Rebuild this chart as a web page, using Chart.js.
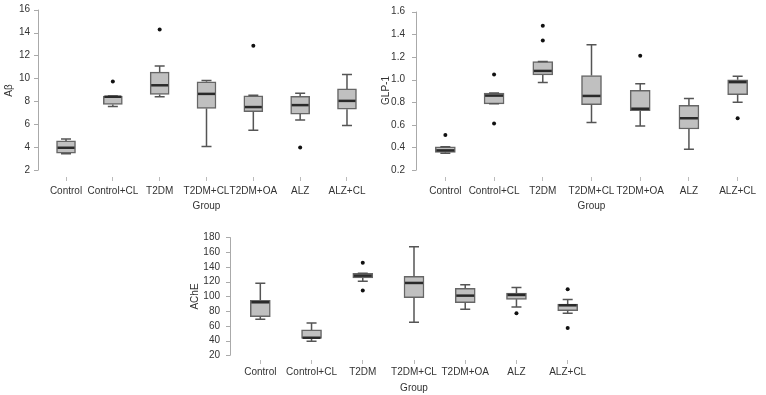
<!DOCTYPE html>
<html>
<head>
<meta charset="utf-8">
<script src="https://cdn.jsdelivr.net/npm/chart.js@4.4.0/dist/chart.umd.min.js"></script>
<style>
body{margin:0;background:#fff;width:766px;height:395px;overflow:hidden;position:relative}
canvas{position:absolute}
</style>
</head>
<body>
<canvas id="c1" width="380" height="215" style="left:0px;top:0px"></canvas>
<canvas id="c2" width="386" height="215" style="left:380px;top:0px"></canvas>
<canvas id="c3" width="430" height="180" style="left:170px;top:215px"></canvas>
<script>
const groups = ['Control', 'Control+CL', 'T2DM', 'T2DM+CL', 'T2DM+OA', 'ALZ', 'ALZ+CL'];

// A-beta panel
const abTicks = [2, 4, 6, 8, 10, 12, 14, 16];
const abLow  = [3.43, 7.55, 8.40, 4.06, 5.47, 6.38, 5.90];
const abQ1   = [3.48, 7.72, 8.60, 7.38, 7.10, 6.89, 7.32];
const abMed  = [3.95, 8.40, 9.40, 8.65, 7.50, 7.67, 8.04];
const abQ3   = [4.55, 8.46, 10.55, 9.70, 8.47, 8.44, 9.08];
const abHigh = [4.72, 8.46, 11.09, 9.82, 8.53, 8.70, 10.33];
const abOut  = [[1, 9.72], [2, 14.26], [4, 12.85], [5, 3.97]];

// GLP-1 panel
const glpTicks = [0.2, 0.4, 0.6, 0.8, 1.0, 1.2, 1.4, 1.6];
const glpLow  = [0.348, 0.785, 0.974, 0.620, 0.589, 0.385, 0.800];
const glpQ1   = [0.357, 0.785, 1.041, 0.777, 0.724, 0.563, 0.867];
const glpMed  = [0.374, 0.858, 1.076, 0.855, 0.742, 0.658, 0.977];
const glpQ3   = [0.406, 0.881, 1.159, 1.035, 0.904, 0.771, 0.997];
const glpHigh = [0.406, 0.881, 1.159, 1.307, 0.962, 0.832, 1.029];
const glpOut  = [[0, 0.51], [1, 1.044], [1, 0.611], [2, 1.476], [2, 1.345], [4, 1.209], [6, 0.658]];

// AChE panel
const acheTicks = [20, 40, 60, 80, 100, 120, 140, 160, 180];
const acheLow  = [68.8, 39.0, 120.3, 64.7, 82.4, 85.5, 77.0];
const acheQ1   = [72.4, 42.8, 124.9, 98.2, 91.4, 95.9, 80.6];
const acheMed  = [91.9, 43.8, 128.0, 118.1, 100.9, 101.8, 87.8];
const acheQ3   = [94.6, 54.4, 131.2, 127.1, 110.8, 104.5, 89.6];
const acheHigh = [117.6, 63.8, 131.2, 167.3, 115.8, 111.8, 95.5];
const acheOut  = [[2, 145.6], [2, 107.7], [5, 77.0], [6, 109.5], [6, 57.1]];

const FONT = 'Liberation Sans, Arial, sans-serif';
const TXT = '#333';

// whiskers, medians and the R-style y axis line
function boxParts(low, med, high, gap) {
  return {
    id: 'boxParts',
    afterDatasetsDraw(chart) {
      const ctx = chart.ctx, y = chart.scales.y;
      const meta = chart.getDatasetMeta(0);
      ctx.save();
      meta.data.forEach(function(bar, i) {
        const x = bar.x, hw = bar.width / 2, cap = 5;
        const top = Math.min(bar.y, bar.base), bot = Math.max(bar.y, bar.base);
        ctx.strokeStyle = '#555';
        ctx.lineWidth = 1.5;
        ctx.beginPath();
        const yh = y.getPixelForValue(high[i]);
        const yl = y.getPixelForValue(low[i]);
        ctx.moveTo(x, top); ctx.lineTo(x, yh);
        ctx.moveTo(x - cap, yh); ctx.lineTo(x + cap, yh);
        ctx.moveTo(x, bot); ctx.lineTo(x, yl);
        ctx.moveTo(x - cap, yl); ctx.lineTo(x + cap, yl);
        ctx.stroke();
        ctx.strokeStyle = '#2a2a2a';
        ctx.lineWidth = 2.5;
        ctx.beginPath();
        const ym = y.getPixelForValue(med[i]);
        ctx.moveTo(x - hw + 1, ym); ctx.lineTo(x + hw - 1, ym);
        ctx.stroke();
      });
      // y axis line with tick marks
      const ax = chart.chartArea.left - gap;
      const t = y.ticks;
      ctx.strokeStyle = '#aaa';
      ctx.lineWidth = 1;
      ctx.beginPath();
      ctx.moveTo(ax + 0.5, y.getPixelForValue(t[0].value));
      ctx.lineTo(ax + 0.5, y.getPixelForValue(t[t.length - 1].value));
      t.forEach(function(tk) {
        const py = Math.round(y.getPixelForValue(tk.value)) + 0.5;
        ctx.moveTo(ax + 0.5, py); ctx.lineTo(ax - 4, py);
      });
      ctx.stroke();
      ctx.restore();
    }
  };
}

function makeChart(id, p) {
  const ctx = document.getElementById(id).getContext('2d');
  return new Chart(ctx, {
    data: {
      labels: groups,
      datasets: [{
        type: 'bar',
        data: p.q1.map(function(v, i) { return [v, p.q3[i]]; }),
        backgroundColor: '#c0c0c0',
        borderColor: '#666',
        borderWidth: 1.5,
        borderSkipped: false,
        barThickness: p.barW,
        order: 2
      }, {
        type: 'scatter',
        data: p.out.map(function(o) { return {x: groups[o[0]], y: o[1]}; }),
        pointRadius: 2,
        pointBackgroundColor: '#111',
        pointBorderWidth: 0,
        order: 1
      }]
    },
    options: {
      responsive: false,
      animation: false,
      layout: {padding: p.pad},
      plugins: {legend: {display: false}, tooltip: {enabled: false}},
      scales: {
        x: {
          type: 'category',
          offset: true,
          grid: {display: true, drawOnChartArea: false, drawTicks: true, tickLength: 4, color: '#bbb', offset: false},
          border: {display: false},
          ticks: {color: TXT, font: {family: FONT, size: 10}, padding: p.xPad, autoSkip: false, maxRotation: 0, minRotation: 0},
          title: {display: true, text: 'Group', color: TXT, font: {family: FONT, size: 10}, padding: {top: 0, bottom: p.groupPad}},
          afterFit: function(s) { s.height = p.xH; s.paddingLeft = 0; s.paddingRight = 0; }
        },
        y: {
          type: 'linear',
          min: p.min,
          max: p.max,
          grid: {display: false, drawTicks: false},
          border: {display: false},
          ticks: {color: TXT, font: {family: FONT, size: 10}, padding: p.yPad,
            callback: function(v) { return p.dec ? v.toFixed(p.dec) : v; }},
          afterBuildTicks: function(s) { s.ticks = p.ticks.map(function(v) { return {value: v}; }); },
          title: {display: true, text: p.title, color: TXT, font: {family: FONT, size: 10}, padding: {top: p.titlePad, bottom: 0}},
          afterFit: function(s) { s.width = p.yW; s.paddingTop = 0; s.paddingBottom = 0; }
        }
      }
    },
    plugins: [boxParts(p.low, p.med, p.high, p.gap)]
  });
}

makeChart('c1', {
  q1: abQ1, q3: abQ3, low: abLow, med: abMed, high: abHigh, out: abOut, ticks: abTicks,
  title: 'Aβ', dec: 0, min: 1.40, max: 16.49, barW: 19,
  pad: {left: 0, top: 1, right: 9.6, bottom: 0}, yW: 42.6, xH: 38,
  yPad: 12.6, xPad: 4, groupPad: 2.3, titlePad: 3, gap: 4.6
});

makeChart('c2', {
  q1: glpQ1, q3: glpQ3, low: glpLow, med: glpMed, high: glpHigh, out: glpOut, ticks: glpTicks,
  title: 'GLP-1', dec: 1, min: 0.139, max: 1.667, barW: 20,
  pad: {left: 0, top: 1, right: 0, bottom: 0}, yW: 41, xH: 38,
  yPad: 16, xPad: 4, groupPad: 2.3, titlePad: 0, gap: 5
});

makeChart('c3', {
  q1: acheQ1, q3: acheQ3, low: acheLow, med: acheMed, high: acheHigh, out: acheOut, ticks: acheTicks,
  title: 'AChE', dec: 0, min: 13.63, max: 185.83, barW: 20,
  pad: {left: 0, top: 18, right: 6.7, bottom: 0}, yW: 64.7, xH: 35,
  yPad: 14.7, xPad: 2, groupPad: 0.7, titlePad: 19, gap: 4.7
});
</script>
</body>
</html>
